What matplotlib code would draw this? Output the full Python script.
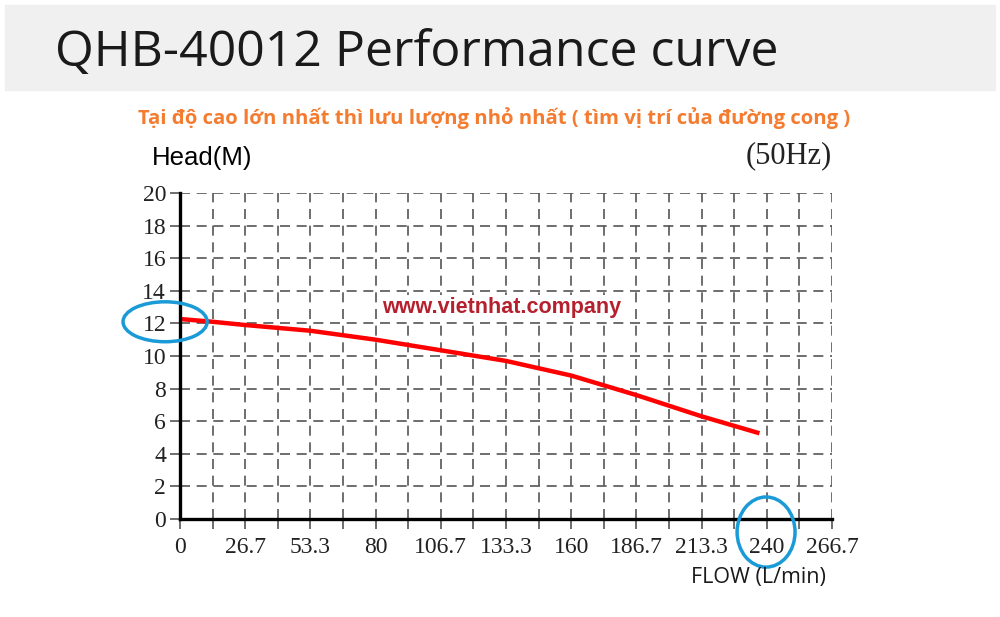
import numpy as np
import matplotlib.pyplot as plt
from matplotlib.patches import Rectangle, Ellipse
from matplotlib.ticker import MultipleLocator

# pump curve
flow = [0, 13.3, 26.7, 53.3, 80, 106.7, 133.3, 160, 186.7, 213.3, 237]
head = [12.27, 12.1, 11.9, 11.55, 11.0, 10.35, 9.7, 8.8, 7.6, 6.3, 5.26]

x_ticks = [0, 26.667, 53.333, 80, 106.667, 133.333, 160, 186.667, 213.333, 240, 266.667]
x_labels = ["0", "26.7", "53.3", "80", "106.7", "133.3", "160", "186.7", "213.3", "240", "266.7"]
y_ticks = list(range(0, 21, 2))

# highlighted spots: (centre x, centre y, width, height) in data units
marks = [(-6.1, 12.1, 34.4, 2.45), (239.7, -0.8, 23.7, 4.3)]

fig = plt.figure(figsize=(10, 6.17), dpi=100)
fig.patches.append(Rectangle((0.005, 1 - 90 / 617), 0.99, 85 / 617,
                             transform=fig.transFigure, color="#f0f0f0", zorder=0))
fig.text(0.055, 1 - 53 / 617, "QHB-40012 Performance curve", fontsize=36,
         family="Open Sans", color="#1a1a1a", va="center", ha="left")
fig.text(0.494, 1 - 118 / 617,
         "Tại độ cao lớn nhất thì lưu lượng nhỏ nhất ( tìm vị trí của đường cong )",
         fontsize=14.6, family="Open Sans", fontweight="bold", color="#f47c30",
         va="center", ha="center")

ax = fig.add_axes([0.18, 1 - 519 / 617, 0.652, 326 / 617])
ax.plot(flow, head, color="#ff0000", lw=3.2, solid_capstyle="butt", zorder=3)

ax.set_xlim(0, 266.667)
ax.set_ylim(0, 20)
ax.set_xticks(x_ticks)
ax.set_xticklabels(x_labels)
ax.xaxis.set_minor_locator(MultipleLocator(80 / 6))
ax.set_yticks(y_ticks)

grid_style = dict(color="#555555", lw=1.2, linestyle=(0, (6, 4)))
ax.grid(True, which="both", axis="x", **grid_style)
ax.grid(True, which="major", axis="y", **grid_style)
ax.set_axisbelow(True)

for side in ["top", "right"]:
    ax.spines[side].set_visible(False)
for side in ["left", "bottom"]:
    ax.spines[side].set_linewidth(2.4)
    ax.spines[side].set_color("black")
    ax.spines[side].set_zorder(4)

ax.tick_params(axis="both", which="both", direction="out", length=7,
               width=1.2, color="#555555")
ax.tick_params(axis="x", pad=6)
ax.tick_params(axis="y", pad=3)
for lab in ax.get_xticklabels() + ax.get_yticklabels():
    lab.set_family("Liberation Serif")
    lab.set_fontsize(17)
    lab.set_color("#222222")

for cx, cy, w, h in marks:
    ax.add_patch(Ellipse((cx, cy), w, h, fill=False, edgecolor="#1a9ad6",
                         lw=2.5, clip_on=False, zorder=5))

ax.text(0.493, 0.65, "www.vietnhat.company", transform=ax.transAxes,
        fontsize=15.5, family="Liberation Sans", fontweight="bold", color="#b5202e",
        ha="center", va="center", zorder=4,
        bbox=dict(facecolor="white", edgecolor="none", pad=1))

fig.text(0.152, 1 - 158 / 617, "Head(M)", fontsize=18.5, family="Liberation Sans",
         ha="left", va="center")
fig.text(0.832, 1 - 156 / 617, "(50Hz)", fontsize=22, family="Liberation Serif",
         ha="right", va="center", color="#222222")
fig.text(0.826, 1 - 578 / 617, "FLOW (L/min)", fontsize=15.5, family="Open Sans",
         ha="right", va="center", color="#1a1a1a")

fig.savefig("out.png", dpi=100)
